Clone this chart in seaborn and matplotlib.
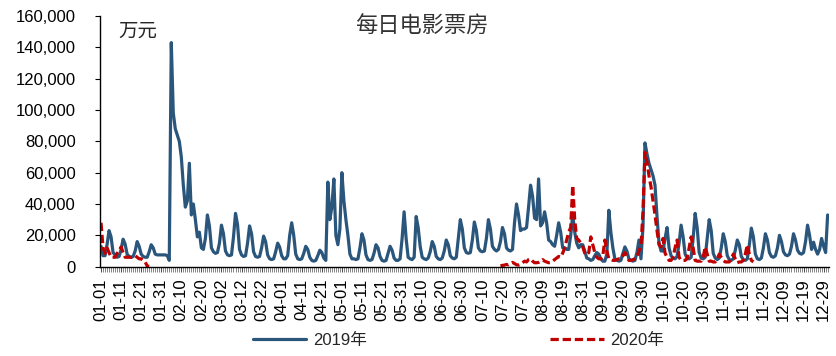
import numpy as np
import pandas as pd
import matplotlib
matplotlib.use('Agg')
import matplotlib.pyplot as plt
from matplotlib.lines import Line2D
from matplotlib.ticker import FuncFormatter
import seaborn as sns

# 每日电影票房（万元），2019 年按月
jan19 = [13000, 7000, 7000, 14000, 23000, 19000, 9000, 7500, 6000, 6500, 11000, 17500, 14500, 8000, 6500, 6000,
         6500, 10000, 16000, 13000, 8000, 6500, 6000, 6000, 9500, 14000, 12000, 8000, 7500, 7500, 7500]
feb19 = [7500, 7500, 7000, 4000, 143000, 98000, 88000, 84000, 80000, 70000, 52000, 38000, 42000, 66000,
         33000, 40000, 30000, 19000, 22000, 12000, 11000, 18000, 33000, 26000, 12000, 9500, 8500, 9000]
mar19 = [15000, 26500, 21000, 10000, 7500, 7000, 7500, 19000, 34000, 27000, 11000, 7500, 6500, 7000, 15000, 26000,
         21000, 9500, 6500, 6000, 6500, 12000, 19500, 16000, 7500, 5000, 4500, 5000, 9500, 15000, 12500]
apr19 = [7000, 5000, 5000, 7000, 20000, 28000, 20000, 8000, 5000, 4500, 5000, 8500, 13000, 11000, 6000, 4000,
         3500, 4000, 7000, 10500, 9000, 5500, 4000, 54000, 30000, 38000, 56000, 20000, 14000, 24000]
may19 = [60000, 42000, 30000, 20000, 8000, 5000, 5000, 4500, 5000, 12000, 21000, 17000, 7500, 4500, 4000, 4500,
         8500, 14000, 12000, 6500, 4000, 3500, 4000, 8500, 13000, 10500, 5500, 4000, 4000, 5000, 18000]
jun19 = [35000, 18000, 6000, 5000, 4500, 6000, 32000, 25000, 13000, 6000, 5000, 4500, 5500, 9500, 16000, 13000,
         6500, 5000, 4500, 5500, 10000, 17000, 14000, 7000, 5500, 5000, 6000, 18000, 30000, 24000]
jul19 = [12000, 9000, 8500, 9000, 17000, 28500, 23000, 12000, 10000, 9500, 10000, 18000, 30000, 24000, 13000, 11000,
         10000, 11000, 16000, 25000, 21000, 12000, 10500, 10000, 11000, 28000, 40000, 33000, 23000, 24000, 24000]
aug19 = [25000, 38000, 52000, 45000, 31000, 30000, 56000, 26000, 28000, 35000, 28000, 17000, 16000, 14000, 13000,
         20000, 28000, 22000, 12000, 12000, 11000, 11000, 20000, 33000, 22000, 15000, 12000, 14000, 14000]
sep19 = [10000, 5500, 5000, 4000, 4500, 7000, 9000, 8000, 5000, 3500, 3500, 8000, 36000, 22000, 12000, 5000,
         4000, 3500, 4000, 8500, 12600, 10000, 5000, 4000, 3500, 4000, 9000, 17000, 5000, 25000]
oct19 = [79000, 72000, 66000, 62000, 58000, 52000, 32000, 15000, 10000, 10000, 18000, 25000, 12000, 7000, 5500,
         5000, 6500, 15000, 26500, 19000, 8000, 5500, 5000, 6000, 18000, 34000, 25000, 9000, 5500, 5000, 6000]
nov19 = [18000, 30000, 23000, 8500, 5500, 4500, 5500, 12000, 21000, 16000, 7000, 4500, 4000, 5000, 10500, 17000,
         14000, 6500, 4500, 4000, 5000, 14000, 24600, 19000, 8000, 5000, 4500, 5500, 12000, 21000]
dec19 = [17000, 9000, 6500, 6000, 7000, 12000, 20000, 16000, 9500, 7500, 7000, 8000, 13000, 21000, 17000, 10500,
         8500, 8000, 9000, 16000, 26500, 20000, 11000, 15600, 11000, 8000, 11000, 18000, 13000, 9000, 33000]

# 2020 年：1 月至影院关闭，7 月复工之后
jan20 = [28000, 12000, 8500, 12000, 9000, 6000, 6000, 6000, 8500, 10000, 12600, 9000, 6000, 6000, 6000, 6000,
         6500, 7000, 6000, 5000, 5000, 4000, 3000, 400, 200]
reopen20 = [500, 800, 1000, 1400, 1200, 2000, 2700, 2000, 1200, 1000, 1500, 2500, 3500, 3000, 4500, 5000,
            3500, 2500, 2500, 2700, 3500, 4500, 3500, 3000, 2500, 2700, 3500, 4500, 5500, 6500, 6000, 8600,
            12000, 17000, 22000, 25000, 52000, 30000, 18000, 17000, 15000, 12600, 8600, 7500, 9000, 19000,
            14000, 9000, 6000, 5000, 5000, 7000, 17000, 10000, 5000, 4500, 4000, 4000, 4500, 5000, 5000, 7000,
            9000, 6000, 4000, 4000, 4500, 5000, 6000, 10000, 13000, 35000, 73000, 67000, 58000, 51000, 42000,
            33000, 23000, 14000, 12600, 18000, 8600, 6000, 4000, 4000, 6000, 12000, 17000, 6000, 4000, 4000,
            4000, 5000, 12000, 19000, 12000, 4000, 3500, 3500, 3500, 6000, 12600, 8000, 3500, 3500, 3000, 3000,
            5000, 8000, 6000, 4000, 3000, 3000, 3000, 5000, 8000, 5000, 2500, 3000, 3000, 4000, 8000, 14000,
            8000, 4000, 3000]
reopen_day = '07-19'
missing_days = ['2019-08-27', '2019-08-28']

# 日期标签
dates = pd.date_range('2019-01-01', '2019-12-31')
dates = dates[~dates.isin(pd.to_datetime(missing_days))]
labels = dates.strftime('%m-%d').tolist()

box_2019 = jan19 + feb19 + mar19 + apr19 + may19 + jun19 + jul19 + aug19 + sep19 + oct19 + nov19 + dec19
start = labels.index(reopen_day)
box_2020 = jan20 + [np.nan] * (start - len(jan20)) + reopen20
box_2020 = box_2020 + [np.nan] * (len(labels) - len(box_2020))

df = pd.DataFrame({'day': np.arange(len(labels)), 'y2019': box_2019, 'y2020': box_2020})
df['seg'] = df['y2020'].isna().cumsum()
d20 = df.dropna(subset=['y2020'])

blue = '#2B567C'
red = '#C00000'
dash = (0, (2.6, 1.2))

sns.set_theme(style='ticks')
plt.rcParams['font.family'] = ['Liberation Sans', 'Noto Sans CJK SC']
plt.rcParams['axes.unicode_minus'] = False

fig = plt.figure(figsize=(8.37, 3.56), dpi=100)
ax = fig.add_axes([0.1195, 0.251, 0.8705, 0.704])

sns.lineplot(data=df, x='day', y='y2019', color=blue, lw=2.3, ax=ax, legend=False)
sns.lineplot(data=d20, x='day', y='y2020', units='seg', estimator=None, color=red, lw=2.3,
             linestyle=dash, ax=ax, legend=False)

ax.set_xlim(-0.5, len(labels) - 0.5)
ax.set_ylim(0, 160000)
ax.set_yticks(np.arange(0, 160001, 20000))
ax.yaxis.set_major_formatter(FuncFormatter(lambda v, p: f'{v:,.0f}'))
ax.set_xticks(df['day'][::10])
ax.set_xticklabels(labels[::10], rotation=90)
ax.set_xticks(df['day'], minor=True)
ax.set_xlabel('')
ax.set_ylabel('')

ax.tick_params(axis='y', labelsize=12, length=3.5, width=0.8, pad=14, colors='black')
ax.tick_params(axis='x', which='both', labelsize=12, length=3.5, width=0.5, pad=5, colors='black')
ax.tick_params(axis='x', which='minor', color='#555555')
for s in ['top', 'right']:
    ax.spines[s].set_visible(False)
for s in ['left', 'bottom']:
    ax.spines[s].set_color('black')
    ax.spines[s].set_linewidth(1.0)

ax.text(0.025, 0.935, '万元', transform=ax.transAxes, fontsize=14, ha='left', va='center')
ax.text(0.442, 0.956, '每日电影票房', transform=ax.transAxes, fontsize=16, ha='center', va='center',
        color='#333333')

handles = [Line2D([], [], color=blue, lw=2.3), Line2D([], [], color=red, lw=2.3, linestyle=dash)]
fig.legend(handles, ['2019年', '2020年'], loc='center', bbox_to_anchor=(0.548, 0.045), ncol=2,
           frameon=False, fontsize=12, handlelength=3.2, handletextpad=0.4, columnspacing=11)

fig.savefig('out.png', dpi=100)
